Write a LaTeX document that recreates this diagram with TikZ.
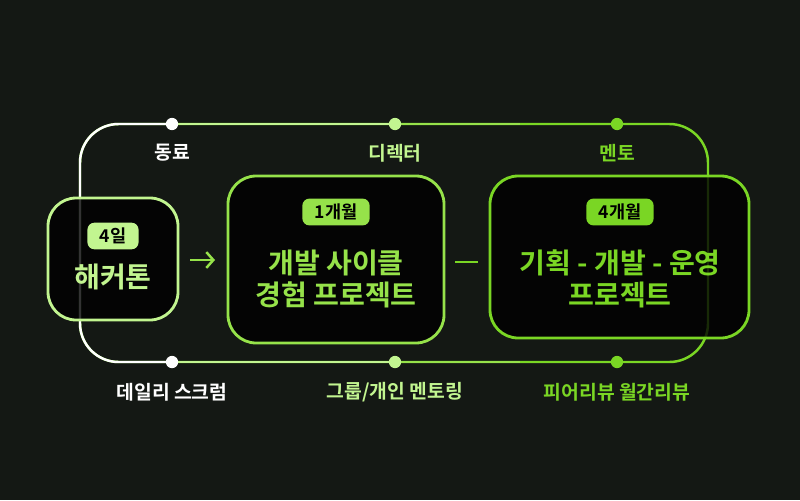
\documentclass[tikz,border=0pt]{standalone}
\usepackage{fontspec}
\setmainfont{Noto Sans CJK KR}[BoldFont={* Bold}]
\usetikzlibrary{positioning, arrows.meta}
\definecolor{bgdark}{HTML}{141814}
\definecolor{palegreen}{HTML}{C2F590}
\definecolor{midgreen}{HTML}{96E24A}
\definecolor{deepgreen}{HTML}{7AD624}

\begin{document}
\begin{tikzpicture}[x=0.02cm, y=-0.02cm,
  stage/.style={draw=#1, line width=1.6pt, rounded corners=16, fill=black, fill opacity=0.8},
  badge/.style={fill=#1, rounded corners=4, text=black, font=\bfseries\fontsize{10}{11}\selectfont, inner xsep=7pt, inner ysep=3pt},
  headline/.style={font=\bfseries\fontsize{16}{20}\selectfont, align=center, text=#1},
  tag/.style={font=\bfseries\fontsize{11}{13}\selectfont, text=#1},
  dot/.style={circle, fill=#1, inner sep=0pt, minimum size=7pt}]

  \fill[bgdark] (0,0) rectangle (800,500);

  % loop line
  \draw[deepgreen, line width=1.4pt, rounded corners=22] (172,124) -- (708,124) -- (708,362) -- (80,362) -- (80,124) -- cycle;
  \draw[white, line width=1.4pt, rounded corners=22] (172,362) -- (80,362) -- (80,124) -- (172,124);
  \draw[palegreen, line width=1.4pt] (172,124) -- (395,124);
  \draw[palegreen, line width=1.4pt] (172,362) -- (395,362);
  \draw[midgreen, line width=1.4pt] (395,124) -- (520,124);
  \draw[midgreen, line width=1.4pt] (395,362) -- (520,362);

  % dots and roles
  \node[dot=white] (peerTop) at (172,124) {};
  \node[dot=palegreen] (dirTop) at (395,124) {};
  \node[dot=deepgreen] (mentorTop) at (617,124) {};
  \node[dot=white] (peerBot) at (172,362) {};
  \node[dot=palegreen] (dirBot) at (395,362) {};
  \node[dot=deepgreen] (mentorBot) at (617,362) {};

  \node[tag=white] (peer) at (172,153) {동료};
  \node[tag=palegreen] (dir) at (395,153) {디렉터};
  \node[tag=deepgreen] (mentor) at (617,153) {멘토};
  \node[tag=white] (scrum) at (172,392) {데일리 스크럼};
  \node[tag=palegreen] (group) at (395,392) {그룹/개인 멘토링};
  \node[tag=deepgreen] (review) at (617,392) {피어리뷰 월간리뷰};

  % stages
  \draw[stage=palegreen] (48,198) rectangle (178,320);
  \node[badge=palegreen] (days) at (113,236) {4일};
  \node[headline=palegreen] (hack) at (113,277) {해커톤};

  \draw[stage=midgreen] (228,176) rectangle (444,343);
  \node[badge=midgreen] (month) at (336,212) {1개월};
  \node[headline=midgreen] (cycle) at (336,279) {개발 사이클\\[-2pt]경험 프로젝트};

  \draw[stage=deepgreen] (490,176) rectangle (749,338);
  \node[badge=deepgreen] (months) at (620,212) {4개월};
  \node[headline=deepgreen] (plan) at (620,279) {기획 - 개발 - 운영\\[-2pt]프로젝트};

  \draw[midgreen, line width=1.4pt, -{Straight Barb[length=4pt, width=9pt]}] (190,260) -- (215,260);
  \draw[deepgreen, line width=1.4pt] (455,262) -- (478,262);

\end{tikzpicture}
\end{document}
